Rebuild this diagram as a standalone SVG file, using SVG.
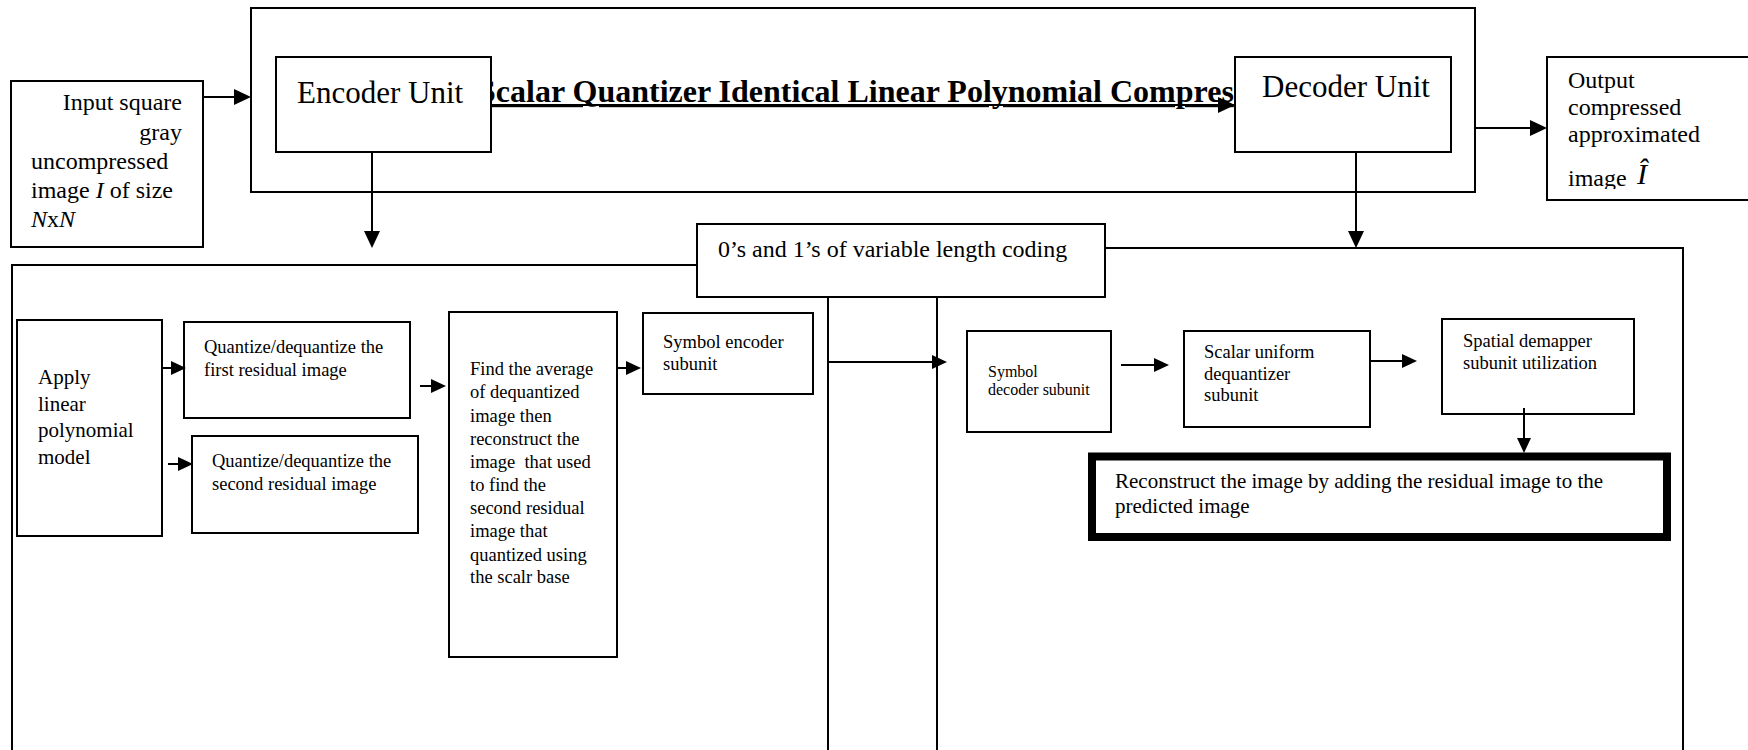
<svg xmlns="http://www.w3.org/2000/svg" width="1748" height="750" viewBox="0 0 1748 750">
<style>
.bx{fill:#fff;stroke:#000;stroke-width:2}
.pn{fill:none;stroke:#000;stroke-width:2}
.ln{fill:none;stroke:#000;stroke-width:2}
.thick{fill:#fff;stroke:#000;stroke-width:8}
.t{font-family:"Liberation Serif","Times New Roman",serif;fill:#000}
.f31{font-size:31px}
.f24{font-size:24px}
.f21{font-size:21px}
.f18{font-size:18.5px}
.f16{font-size:16px}
.ttl{font-size:32px;font-weight:bold;text-decoration:underline}
.it{font-style:italic}
</style>
<defs>
<marker id="ah" markerUnits="userSpaceOnUse" viewBox="0 0 17 16" markerWidth="17" markerHeight="16" refX="11" refY="8" orient="auto"><path d="M0,0 L17,8 L0,16 Z" fill="#000"/></marker>
<marker id="as" markerUnits="userSpaceOnUse" viewBox="0 0 15 14" markerWidth="15" markerHeight="14" refX="9" refY="7" orient="auto"><path d="M0,0 L15,7 L0,14 Z" fill="#000"/></marker>
<clipPath id="outclip"><rect x="1548" y="58" width="200" height="131"/></clipPath>
</defs>
<rect width="1748" height="750" fill="#fff"/>

<g id="encoder-panel"><path class="pn" d="M12,750 V265 H697 M828,297 V750"/></g>
<g id="decoder-panel"><path class="pn" d="M937,297 V750 M1105,248 H1683 V750"/></g>

<g id="input">
<rect class="bx" x="11" y="81" width="192" height="166"/>
<text class="t f24" text-anchor="end" x="182" y="110">Input square</text>
<text class="t f24" text-anchor="end" x="182" y="139.5">gray</text>
<text class="t f24" x="31" y="169">uncompressed</text>
<text class="t f24" x="31" y="198">image <tspan class="it">I</tspan> of size</text>
<text class="t f24" x="31" y="227"><tspan class="it">N</tspan>x<tspan class="it">N</tspan></text>
</g>

<g id="compressor">
<rect class="bx" x="251" y="8" width="1224" height="184"/>
<text class="t ttl" x="478" y="102">Scalar Quantizer Identical Linear Polynomial Compres</text>
</g>

<g id="encoder-unit">
<rect class="bx" x="276" y="57" width="215" height="95"/>
<text class="t f31" x="297" y="103">Encoder Unit</text>
</g>

<g id="decoder-unit">
<rect class="bx" x="1235" y="57" width="216" height="95"/>
<text class="t f31" x="1262" y="97">Decoder Unit</text>
</g>

<g id="output">
<rect class="bx" x="1547" y="57" width="210" height="143"/>
<g clip-path="url(#outclip)">
<text class="t f24" x="1568" y="88">Output</text>
<text class="t f24" x="1568" y="115">compressed</text>
<text class="t f24" x="1568" y="142">approximated</text>
<text class="t f24" x="1568" y="186">image</text>
<text class="t it" style="font-size:30px" x="1637" y="184">Î</text>
</g>
</g>

<g id="bitstream">
<rect class="bx" x="697" y="224" width="408" height="73"/>
<text class="t f24" x="718" y="257">0’s and 1’s of variable length coding</text>
</g>

<g id="apply-model">
<rect class="bx" x="17" y="320" width="145" height="216"/>
<text class="t f21" x="38" y="384">Apply</text>
<text class="t f21" x="38" y="411">linear</text>
<text class="t f21" x="38" y="437">polynomial</text>
<text class="t f21" x="38" y="464">model</text>
</g>

<g id="quantize-first">
<rect class="bx" x="184" y="322" width="226" height="96"/>
<text class="t f18" x="204" y="353">Quantize/dequantize the</text>
<text class="t f18" x="204" y="376">first residual image</text>
</g>

<g id="quantize-second">
<rect class="bx" x="192" y="436" width="226" height="97"/>
<text class="t f18" x="212" y="467">Quantize/dequantize the</text>
<text class="t f18" x="212" y="490">second residual image</text>
</g>

<g id="find-average">
<rect class="bx" x="449" y="312" width="168" height="345"/>
<text class="t f18" x="470" y="375">Find the average</text>
<text class="t f18" x="470" y="398">of dequantized</text>
<text class="t f18" x="470" y="422">image then</text>
<text class="t f18" x="470" y="445">reconstruct the</text>
<text class="t f18" x="470" y="468" xml:space="preserve">image  that used</text>
<text class="t f18" x="470" y="491">to find the</text>
<text class="t f18" x="470" y="514">second residual</text>
<text class="t f18" x="470" y="537">image that</text>
<text class="t f18" x="470" y="561">quantized using</text>
<text class="t f18" x="470" y="583">the scalr base</text>
</g>

<g id="symbol-encoder">
<rect class="bx" x="643" y="313" width="170" height="81"/>
<text class="t f18" x="663" y="348">Symbol encoder</text>
<text class="t f18" x="663" y="370">subunit</text>
</g>

<g id="symbol-decoder">
<rect class="bx" x="967" y="331" width="144" height="101"/>
<text class="t f16" x="988" y="377">Symbol</text>
<text class="t f16" x="988" y="395">decoder subunit</text>
</g>

<g id="scalar-dequantizer">
<rect class="bx" x="1184" y="331" width="186" height="96"/>
<text class="t f18" x="1204" y="358">Scalar uniform</text>
<text class="t f18" x="1204" y="380">dequantizer</text>
<text class="t f18" x="1204" y="401">subunit</text>
</g>

<g id="spatial-demapper">
<rect class="bx" x="1442" y="319" width="192" height="95"/>
<text class="t f18" x="1463" y="347">Spatial demapper</text>
<text class="t f18" x="1463" y="369">subunit utilization</text>
</g>

<g id="reconstruct">
<rect class="thick" x="1092" y="456.5" width="575" height="80.5"/>
<text class="t f21" x="1115" y="488">Reconstruct the image by adding the residual image to the</text>
<text class="t f21" x="1115" y="513">predicted image</text>
</g>

<g id="connectors">
<path class="ln" d="M203,97 H245" marker-end="url(#ah)"/>
<path class="ln" d="M491,105 H1229" marker-end="url(#ah)"/>
<path class="ln" d="M1475,128 H1541" marker-end="url(#ah)"/>
<path class="ln" d="M372,152 V242" marker-end="url(#ah)"/>
<path class="ln" d="M1356,152 V242" marker-end="url(#ah)"/>
<path class="ln" d="M161,368 H180" marker-end="url(#as)"/>
<path class="ln" d="M168,464 H187" marker-end="url(#as)"/>
<path class="ln" d="M420,386 H440" marker-end="url(#as)"/>
<path class="ln" d="M617,368 H635" marker-end="url(#as)"/>
<path class="ln" d="M828,362 H941" marker-end="url(#as)"/>
<path class="ln" d="M1121,365 H1163" marker-end="url(#as)"/>
<path class="ln" d="M1370,361 H1411" marker-end="url(#as)"/>
<path class="ln" d="M1524,408 V447" marker-end="url(#as)"/>
</g>
</svg>
